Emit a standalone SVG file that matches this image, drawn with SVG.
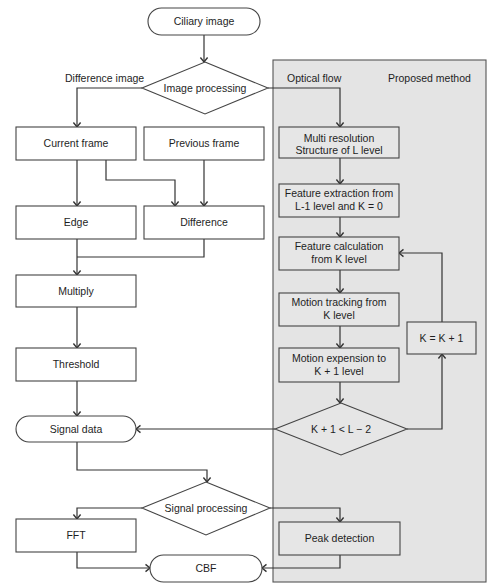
<svg xmlns="http://www.w3.org/2000/svg" width="499" height="588" viewBox="0 0 499 588">
<defs>
<marker id="arr" markerUnits="userSpaceOnUse" markerWidth="10" markerHeight="10" viewBox="-6 -5 7 10" refX="0" refY="0" orient="auto">
<path d="M-4.5,-3.6 L0,0 L-4.5,3.6" fill="none" stroke="#333" stroke-width="1.4"/>
</marker>
<style>
.n{fill:#fff;stroke:#444;stroke-width:1.1}
.g{fill:#e6e6e6;stroke:#444;stroke-width:1.1}
text{font-family:"Liberation Sans",Arial,sans-serif;font-size:10.5px;fill:#1e1e1e;text-anchor:middle}
.l{text-anchor:start}
.c{fill:none;stroke:#333;stroke-width:1.2}
.a{marker-end:url(#arr)}
</style>
</defs>
<rect width="499" height="588" fill="#fff"/>
<g id="panel">
<rect x="273" y="60" width="213" height="522" fill="#e4e4e4" stroke="#555" stroke-width="1.1"/>
<text class="l" x="287" y="82">Optical flow</text>
<text class="l" x="388" y="82">Proposed method</text>
</g>
<g id="connectors">
<path class="c a" d="M204,35 V62"/>
<path class="c a" d="M142,88 H77 V127"/>
<path class="c a" d="M268,88 H340 V127"/>
<path class="c a" d="M77,160 V206"/>
<path class="c a" d="M106,160 V180 H175 V206"/>
<path class="c a" d="M204,160 V206"/>
<path class="c" d="M204,239 V257 H77"/>
<path class="c a" d="M77,239 V275"/>
<path class="c a" d="M77,307 V348"/>
<path class="c a" d="M77,381 V416"/>
<path class="c a" d="M340,158 V184"/>
<path class="c a" d="M340,217 V237"/>
<path class="c a" d="M340,270 V293"/>
<path class="c a" d="M340,326 V348"/>
<path class="c a" d="M340,382 V403"/>
<path class="c a" d="M407,429 H442 V354"/>
<path class="c a" d="M442,322 V253 H399"/>
<path class="c a" d="M275,429 H136"/>
<path class="c a" d="M77,442 V470 H207 V482"/>
<path class="c a" d="M142,508 H77 V519"/>
<path class="c a" d="M270,508 H340 V522"/>
<path class="c a" d="M77,552 V568 H150"/>
<path class="c a" d="M340,555 V568 H262"/>
</g>
<g id="ciliary"><rect class="n" x="148" y="8" width="112" height="27" rx="13.5"/><text x="204" y="25">Ciliary image</text></g>
<g id="imgproc"><polygon class="n" points="205,62 268,88 205,114 142,88"/><text x="205" y="92">Image processing</text></g>
<g id="difflabel"><text class="l" x="65" y="82">Difference image</text></g>
<g id="current"><rect class="n" x="16" y="127" width="120" height="33"/><text x="76" y="147">Current frame</text></g>
<g id="previous"><rect class="n" x="144" y="127" width="120" height="33"/><text x="204" y="147">Previous frame</text></g>
<g id="edge"><rect class="n" x="16" y="206" width="120" height="33"/><text x="76" y="226">Edge</text></g>
<g id="difference"><rect class="n" x="144" y="206" width="120" height="33"/><text x="204" y="226">Difference</text></g>
<g id="multiply"><rect class="n" x="16" y="275" width="120" height="32"/><text x="76" y="295">Multiply</text></g>
<g id="threshold"><rect class="n" x="16" y="348" width="120" height="33"/><text x="76" y="368">Threshold</text></g>
<g id="signaldata"><rect class="n" x="16" y="416" width="120" height="26" rx="13"/><text x="76" y="433">Signal data</text></g>
<g id="sigproc"><polygon class="n" points="206,482 270,508 206,535 142,508"/><text x="206" y="512">Signal processing</text></g>
<g id="fft"><rect class="n" x="16" y="519" width="120" height="33"/><text x="76" y="539">FFT</text></g>
<g id="cbf"><rect class="n" x="150" y="555" width="112" height="27" rx="13.5"/><text x="206" y="572">CBF</text></g>
<g id="multires"><rect class="g" x="279" y="127" width="120" height="31"/><text x="339" y="141.5">Multi resolution</text><text x="339" y="153.5">Structure of L level</text></g>
<g id="featext"><rect class="g" x="279" y="184" width="120" height="33"/><text x="339" y="196.5">Feature extraction from</text><text x="339" y="209.5">L-1 level and K = 0</text></g>
<g id="featcalc"><rect class="g" x="279" y="237" width="120" height="33"/><text x="339" y="250">Feature calculation</text><text x="339" y="263">from K level</text></g>
<g id="motiontrack"><rect class="g" x="279" y="293" width="120" height="33"/><text x="339" y="306">Motion tracking from</text><text x="339" y="319">K level</text></g>
<g id="motionexp"><rect class="g" x="279" y="348" width="120" height="34"/><text x="339" y="361.5">Motion expension to</text><text x="339" y="374.5">K + 1 level</text></g>
<g id="kinc"><rect class="g" x="407" y="322" width="69" height="32"/><text x="441.5" y="342">K = K + 1</text></g>
<g id="kcond"><polygon class="g" points="341,403 407,429 341,455 275,429"/><text x="341" y="433">K + 1 &lt; L − 2</text></g>
<g id="peak"><rect class="g" x="279" y="522" width="121" height="33"/><text x="339.5" y="542">Peak detection</text></g>
</svg>
